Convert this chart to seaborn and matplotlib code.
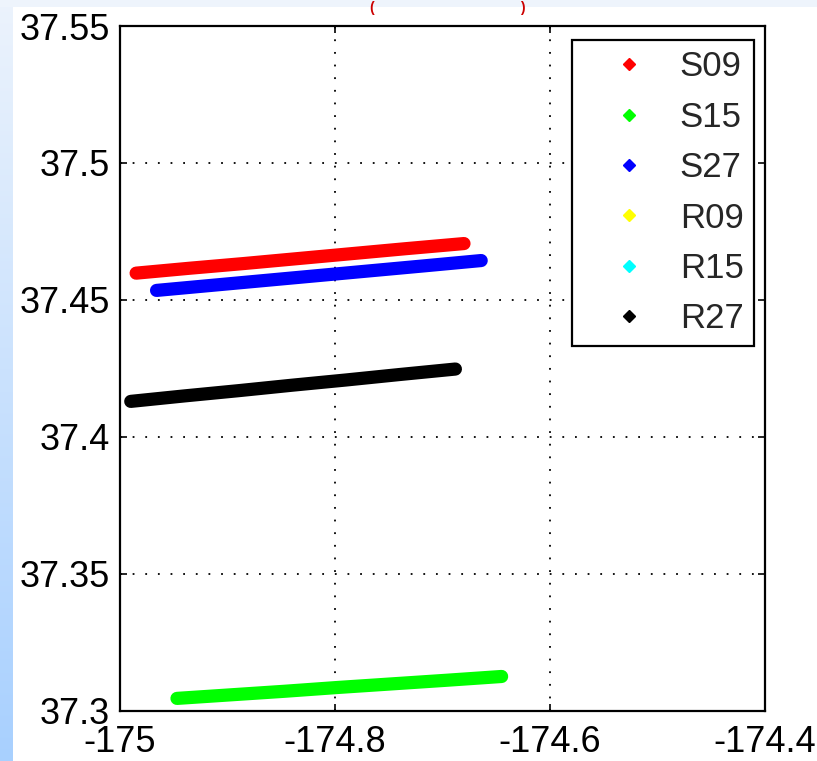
import numpy as np
import pandas as pd
import matplotlib
matplotlib.use("Agg")
import matplotlib.pyplot as plt
from matplotlib.lines import Line2D
import seaborn as sns

# ---------------- data ----------------
labels = ["S09", "S15", "S27", "R09", "R15", "R27"]
colors = ["#ff0000", "#00ff00", "#0000ff", "#ffff00", "#00ffff", "#000000"]

s09_lon = [-174.985, -174.935, -174.885, -174.835, -174.785, -174.735, -174.680]
s09_lat = [37.4598, 37.4616, 37.4633, 37.4651, 37.4669, 37.4687, 37.4706]

s15_lon = [-174.947, -174.897, -174.847, -174.797, -174.747, -174.697, -174.645]
s15_lat = [37.3046, 37.3059, 37.3072, 37.3086, 37.3099, 37.3112, 37.3126]

s27_lon = [-174.966, -174.916, -174.866, -174.816, -174.766, -174.716, -174.664]
s27_lat = [37.4535, 37.4553, 37.4571, 37.4589, 37.4607, 37.4625, 37.4644]

r27_lon = [-174.990, -174.940, -174.890, -174.840, -174.790, -174.740, -174.688]
r27_lat = [37.4130, 37.4150, 37.4169, 37.4189, 37.4208, 37.4228, 37.4248]

x_ticks = [-175, -174.8, -174.6, -174.4]
x_tick_labels = ["-175", "-174.8", "-174.6", "-174.4"]
y_ticks = [37.3, 37.35, 37.4, 37.45, 37.5, 37.55]
y_tick_labels = ["37.3", "37.35", "37.4", "37.45", "37.5", "37.55"]

tracks = {"S09": (s09_lon, s09_lat), "S15": (s15_lon, s15_lat),
          "S27": (s27_lon, s27_lat), "R27": (r27_lon, r27_lat)}
rows = []
for name, (lo, la) in tracks.items():
    for a, b in zip(lo, la):
        rows.append({"track": name, "lon": a, "lat": b})
df = pd.DataFrame(rows)

# ---------------- style ----------------
sns.set_theme(style="white")
plt.rcParams["font.family"] = ["Liberation Sans", "DejaVu Sans"]

W, H = 817, 761
fig = plt.figure(figsize=(W / 100, H / 100), dpi=100, facecolor="white")

# slide background decorations
bg = fig.add_axes([0, 0, 1, 1], zorder=-10)
bg.set_axis_off()
grad = np.linspace(0, 1, 256).reshape(-1, 1)
top_c = np.array([236, 243, 252]) / 255
bot_c = np.array([168, 208, 255]) / 255
img = top_c + grad[..., None] * (bot_c - top_c)
bg.imshow(img, extent=[0, 13, H, 0], aspect="auto")
bg.add_patch(plt.Rectangle((0, 0), W, 7, color=(238 / 255, 244 / 255, 252 / 255), lw=0))
bg.set_xlim(0, W)
bg.set_ylim(H, 0)

fig.text(372 / W, 1 - 1 / H, "(", color="#cc0000", fontsize=10, fontweight="bold",
         ha="center", va="top")
fig.text(522 / W, 1 - 1 / H, ")", color="#cc0000", fontsize=10, fontweight="bold",
         ha="center", va="top")

left, right, top, bottom = 120, 765, 26, 711
ax = fig.add_axes([left / W, 1 - bottom / H, (right - left) / W, (bottom - top) / H])
ax.set_facecolor("white")

palette = dict(zip(labels, colors))
sns.lineplot(data=df, x="lon", y="lat", hue="track", palette=palette,
             sort=False, estimator=None, legend=False, linewidth=9.5,
             solid_capstyle="round", ax=ax)

ax.set_xlim(-175, -174.4)
ax.set_ylim(37.3, 37.55)
ax.set_xticks(x_ticks)
ax.set_xticklabels(x_tick_labels)
ax.set_yticks(y_ticks)
ax.set_yticklabels(y_tick_labels)
ax.set_xlabel("")
ax.set_ylabel("")

ax.tick_params(axis="both", direction="in", length=5, width=1.2, color="black",
               labelsize=26, labelcolor="black", top=True, right=True,
               bottom=True, left=True)
ax.tick_params(axis="x", pad=10)
ax.tick_params(axis="y", pad=7)
for sp in ax.spines.values():
    sp.set_color("black")
    sp.set_linewidth(1.6)
    sp.set_visible(True)

ax.grid(True, color="black", linestyle=(0, (1, 6)), linewidth=1.3)
ax.set_axisbelow(True)

handles = [Line2D([], [], linestyle="none", marker="D", markersize=6,
                  color=c, markeredgecolor=c) for c in colors]
leg = ax.legend(handles, labels, loc="upper right",
                bbox_to_anchor=((754 - left) / (right - left), (bottom - 40) / (bottom - top)),
                borderaxespad=0, fontsize=25, frameon=True, fancybox=False,
                framealpha=1, edgecolor="black", borderpad=0.3,
                handlelength=2.65, handletextpad=0.14, labelspacing=0.5)
leg.get_frame().set_linewidth(1.6)

fig.savefig("out.png", dpi=100, facecolor="white")
